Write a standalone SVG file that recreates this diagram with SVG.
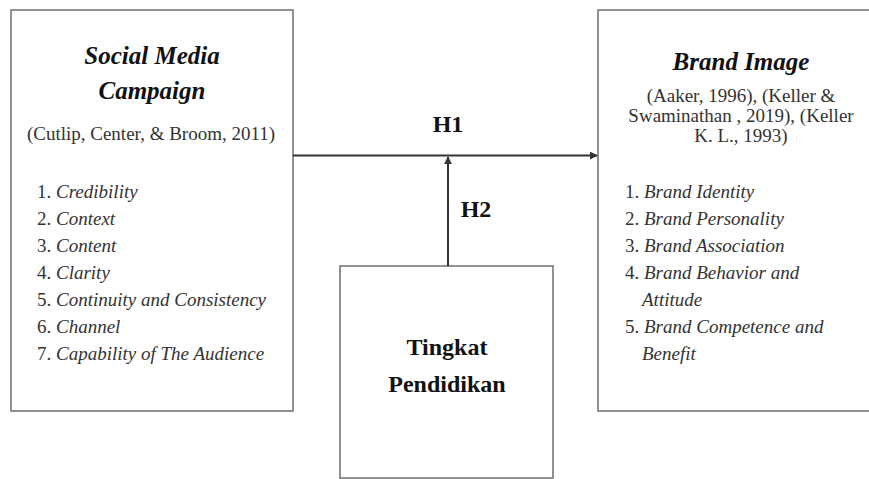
<svg xmlns="http://www.w3.org/2000/svg" width="869" height="479" viewBox="0 0 869 479">
<defs>
<style>
.box{fill:none;stroke:#6e6e6e;stroke-width:1.5}
.conn{stroke:#333;stroke-width:2;fill:none}
.t{font-family:"Liberation Serif",serif;fill:#222}
.title{font-size:25px;font-weight:bold;font-style:italic;text-anchor:middle;fill:#111}
.cite{font-size:19px;text-anchor:middle;fill:#333}
.li{font-size:19px;fill:#333}
.lbl{font-size:24px;font-weight:bold;text-anchor:middle;fill:#111}
</style>
<marker id="ah" viewBox="0 0 10 10" refX="9" refY="5" markerWidth="4" markerHeight="4" orient="auto" markerUnits="strokeWidth">
<path d="M0,0 L10,5 L0,10 z" fill="#333"/>
</marker>
</defs>
<rect width="869" height="479" fill="#ffffff"/>
<g id="social-media-campaign">
<rect class="box" x="11" y="10" width="282" height="401"/>
<text class="t title" x="152" y="64">Social Media</text>
<text class="t title" x="152" y="99">Campaign</text>
<text class="t cite" x="151" y="140">(Cutlip, Center, &amp; Broom, 2011)</text>
<text class="t li" x="37" y="198">1. <tspan font-style="italic">Credibility</tspan></text>
<text class="t li" x="37" y="225">2. <tspan font-style="italic">Context</tspan></text>
<text class="t li" x="37" y="252">3. <tspan font-style="italic">Content</tspan></text>
<text class="t li" x="37" y="279">4. <tspan font-style="italic">Clarity</tspan></text>
<text class="t li" x="37" y="306">5. <tspan font-style="italic">Continuity and Consistency</tspan></text>
<text class="t li" x="37" y="333">6. <tspan font-style="italic">Channel</tspan></text>
<text class="t li" x="37" y="360">7. <tspan font-style="italic">Capability of The Audience</tspan></text>
</g>
<g id="brand-image">
<rect class="box" x="598" y="10" width="280" height="401"/>
<text class="t title" x="741" y="70">Brand Image</text>
<text class="t cite" x="741" y="102">(Aaker, 1996), (Keller &amp;</text>
<text class="t cite" x="741" y="122">Swaminathan , 2019), (Keller</text>
<text class="t cite" x="741" y="142">K. L., 1993)</text>
<text class="t li" x="625" y="198">1. <tspan font-style="italic">Brand Identity</tspan></text>
<text class="t li" x="625" y="225">2. <tspan font-style="italic">Brand Personality</tspan></text>
<text class="t li" x="625" y="252">3. <tspan font-style="italic">Brand Association</tspan></text>
<text class="t li" x="625" y="279">4. <tspan font-style="italic">Brand Behavior and</tspan></text>
<text class="t li" x="642" y="306" font-style="italic">Attitude</text>
<text class="t li" x="625" y="333">5. <tspan font-style="italic">Brand Competence and</tspan></text>
<text class="t li" x="642" y="360" font-style="italic">Benefit</text>
</g>
<g id="tingkat-pendidikan">
<rect class="box" x="340" y="266" width="213" height="212"/>
<text class="t lbl" x="447" y="355">Tingkat</text>
<text class="t lbl" x="447" y="392">Pendidikan</text>
</g>
<g id="connectors">
<line class="conn" x1="293" y1="155.5" x2="597" y2="155.5" marker-end="url(#ah)"/>
<line class="conn" x1="448" y1="266" x2="448" y2="157" marker-end="url(#ah)"/>
<text class="t lbl" x="448" y="132">H1</text>
<text class="t lbl" x="476" y="217">H2</text>
</g>
</svg>
